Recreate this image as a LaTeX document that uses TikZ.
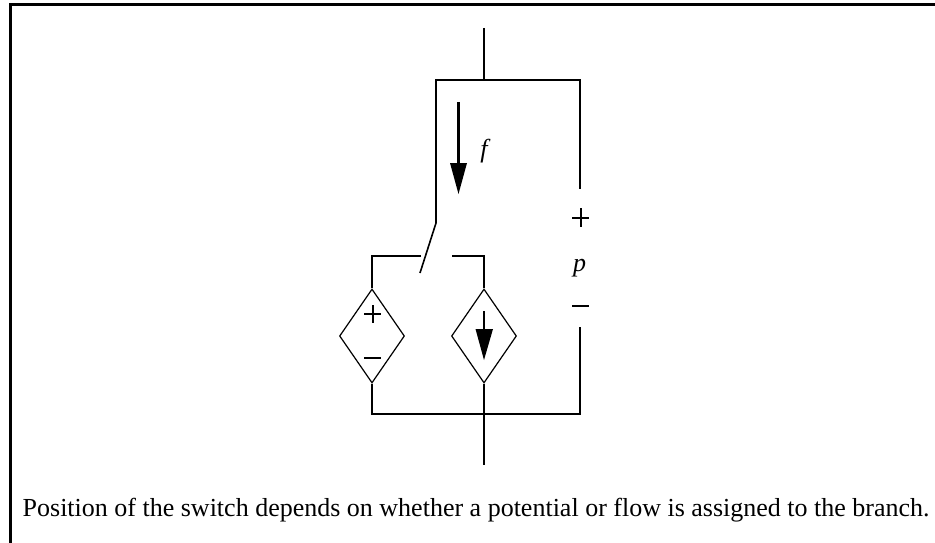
\documentclass[tikz,border=0pt]{standalone}
\usepackage{fontspec}
\setmainfont{Liberation Serif}
\usetikzlibrary{shapes.geometric}
\tikzset{
  wire/.style={line width=2.2pt,line cap=butt,line join=miter},
  pol/.style={line width=2pt,line cap=butt},
  src/.style={diamond,draw,line width=1.2pt,minimum width=65pt,minimum height=94pt,inner sep=0pt,aspect=0.69},
  lab/.style={inner sep=0pt,font=\fontsize{26}{30}\selectfont},
  ilab/.style={inner sep=0pt,font=\fontsize{26}{30}\selectfont\itshape},
  head/.style={fill=black,draw=none},
}
\begin{document}
\begin{tikzpicture}[x=1pt,y=-1pt]
\useasboundingbox (0,0) rectangle (935,543);
\coordinate (fl) at (10.5,543);
\coordinate (ftl) at (10.5,4.5);
\coordinate (ftr) at (935,4.5);
\draw[line width=3pt] (fl) -- (ftl) -- (ftr);
\node[src] (d1) at (372,336) {};
\node[src] (d2) at (484,336) {};
\coordinate (top) at (484,28);
\coordinate (tj) at (484,80);
\coordinate (tl) at (436,80);
\coordinate (tr) at (580,80);
\coordinate (sw) at (436,223);
\coordinate (blade) at (420,273);
\coordinate (vr) at (580,189);
\coordinate (vb) at (580,327);
\coordinate (br) at (580,414);
\coordinate (bl) at (372,414);
\coordinate (bj) at (484,414);
\coordinate (bot) at (484,465);
\coordinate (c1) at (372,256);
\coordinate (c1e) at (421,256);
\coordinate (c2) at (452,256);
\coordinate (c2e) at (484,256);
\draw[wire] (top) -- (tj);
\draw[wire] (sw) -- (tl) -- (tr) -- (vr);
\draw[line width=1.6pt] (sw) -- (blade);
\draw[wire] (c1e) -- (c1) -- (d1.north);
\draw[wire] (c2) -- (c2e) -- (d2.north);
\draw[wire] (d1.south) -- (bl) -- (br) -- (vb);
\draw[wire] (d2.south) -- (bot);
% f arrow
\coordinate (fa) at (458.5,102);
\coordinate (fb) at (458.5,164);
\draw[wire] (fa) -- (fb);
\fill[head] (450,163) -- (467,163) -- (458.5,194) -- cycle;
\node[ilab,anchor=base] (f) at (484,157) {f};
% current source arrow
\coordinate (ia) at (484,311);
\coordinate (ib) at (484,330);
\draw[wire] (ia) -- (ib);
\fill[head] (475.5,329) -- (493,329) -- (484,360) -- cycle;
% polarity of voltage source
\coordinate (pa) at (364,314);
\coordinate (pb) at (381,314);
\coordinate (pc) at (372.5,305);
\coordinate (pd) at (372.5,323);
\coordinate (ma) at (364,358);
\coordinate (mb) at (381,358);
\draw[pol] (pa) -- (pb);
\draw[pol] (pc) -- (pd);
\draw[wire] (ma) -- (mb);
% polarity of p
\coordinate (qa) at (572,217.5);
\coordinate (qb) at (589,217.5);
\coordinate (qc) at (580.5,208);
\coordinate (qd) at (580.5,227);
\coordinate (na) at (572,306);
\coordinate (nb) at (589,306);
\draw[pol] (qa) -- (qb);
\draw[pol] (qc) -- (qd);
\draw[wire] (na) -- (nb);
\node[ilab,anchor=base] (p) at (579.5,271) {p};
\node[lab,anchor=base west] (cap) at (22.5,516) {Position of the switch depends on whether a potential or flow is assigned to the branch.};
\end{tikzpicture}
\end{document}
